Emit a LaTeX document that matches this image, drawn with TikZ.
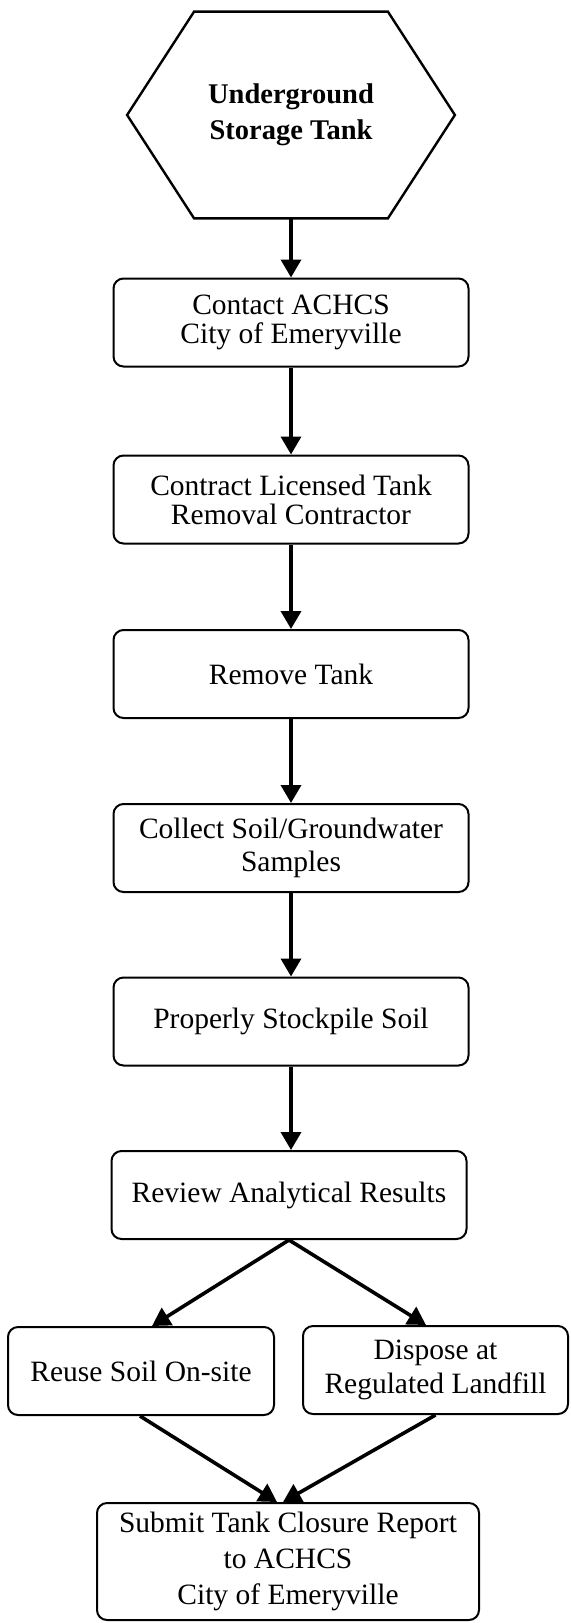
\documentclass[tikz,border=0pt]{standalone}
\usepackage{fontspec}
\setmainfont{Liberation Serif}
\usetikzlibrary{arrows.meta}

\begin{document}
\begin{tikzpicture}[x=0.5pt,y=-0.5pt,
        box/.style={draw,line width=1pt,rounded corners=5pt,minimum width=177.5pt,minimum height=44pt,align=center,font=\fontsize{14.75pt}{14.5pt}\selectfont},
        flow/.style={line width=1.8pt,-{Triangle[width=10pt,length=9pt]}}]
        \useasboundingbox (0,0) rectangle (571,1623);

        \node[minimum width=163.5pt,minimum height=103pt,align=center,font=\bfseries\fontsize{14.25pt}{18pt}\selectfont] (tank) at (291,115) {Underground\\Storage Tank};
        \draw[line width=1.2pt] (tank.west) -- ([xshift=33.5pt]tank.north west) -- ([xshift=-33.5pt]tank.north east) -- (tank.east)
            -- ([xshift=-33.5pt]tank.south east) -- ([xshift=33.5pt]tank.south west) -- cycle;

        \node[box] (contact) at (291,322.5) {Contact ACHCS\\City of Emeryville};
        \node[box] (contract) at (291,499.5) {Contract Licensed Tank\\Removal Contractor};
        \node[box] (remove) at (291,674) {Remove Tank};
        \node[box,font=\fontsize{14.75pt}{16.5pt}\selectfont] (collect) at (291,848) {Collect Soil/Groundwater\\Samples};
        \node[box] (stockpile) at (291,1021.5) {Properly Stockpile Soil};
        \node[box] (review) at (289,1195) {Review Analytical Results};

        \node[box,minimum width=133pt] (reuse) at (141,1371) {Reuse Soil On-site};
        \node[box,minimum width=132.5pt,font=\fontsize{14.75pt}{17pt}\selectfont] (dispose) at (435.5,1370) {Dispose at\\Regulated Landfill};
        \node[box,minimum width=191pt,minimum height=58.5pt,font=\fontsize{14.75pt}{18pt}\selectfont] (submit) at (288,1561.5) {Submit Tank Closure Report\\to ACHCS\\City of Emeryville};

        \draw[flow] (tank.south) -- (contact.north);
        \draw[flow] (contact.south) -- (contract.north);
        \draw[flow] (contract.south) -- (remove.north);
        \draw[flow] (remove.south) -- (collect.north);
        \draw[flow] (collect.south) -- (stockpile.north);
        \draw[flow] (stockpile.south) -- (stockpile.south |- review.north);

        \draw[flow] (review.south) -- ([xshift=5.5pt]reuse.north);
        \draw[flow] (review.south) -- ([xshift=-4.75pt]dispose.north);
        \draw[flow] ([xshift=-0.5pt]reuse.south) -- ([xshift=-5.5pt]submit.north);
        \draw[flow] (dispose.south) -- ([xshift=-2.5pt]submit.north);
    \end{tikzpicture}
\end{document}
